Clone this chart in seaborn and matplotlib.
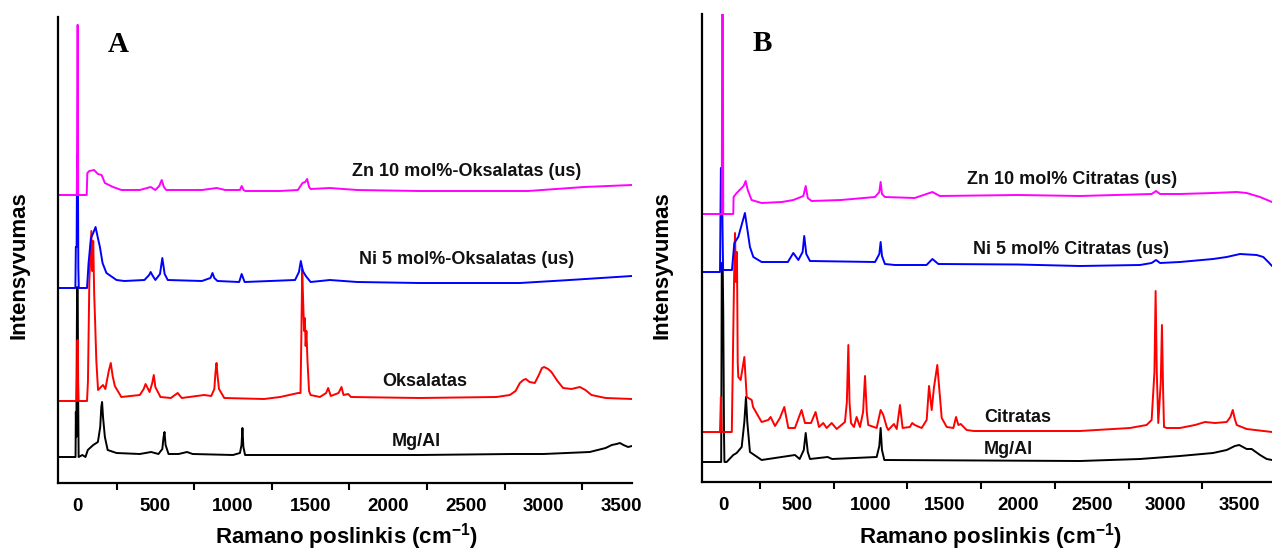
import numpy as np
import pandas as pd
import matplotlib
matplotlib.use("Agg")
import matplotlib.pyplot as plt
from matplotlib.ticker import FixedLocator
import seaborn as sns

# ---------------- data (Raman shift, cm-1 / relative intensity) ----------------
# Panel A
a_mgal_x = [-125, -14, -12, -9, -4, 0, 3, 6, 30, 50, 65, 100, 130, 145, 152, 157, 163, 175, 193, 250, 400,
            473, 520, 545, 553, 559, 566, 585, 650, 704, 740, 1000, 1045, 1055, 1061, 1067, 1078, 1500,
            2200, 2800, 3000, 3298, 3400, 3440, 3470, 3492, 3515, 3545, 3570]
a_mgal_y = [0, 0, 45, 20, 170, 169, 60, 0, 2, 0, 7, 12, 15, 30, 50, 55, 40, 20, 7, 4, 3,
            5, 3, 8, 20, 25, 12, 3, 3, 5, 3, 2, 4, 12, 29, 10, 2, 2,
            2, 3, 3, 5, 9, 12, 13, 14, 12, 10, 11]

a_oks_x = [-125, -8, -4, -2, 0, 2, 5, 60, 66, 75, 88, 93, 100, 106, 112, 120, 131, 163, 178, 200, 213, 225,
           239, 281, 400, 425, 437, 463, 480, 490, 500, 533, 600, 644, 670, 815, 860, 880, 887, 894, 901,
           910, 944, 1200, 1304, 1420, 1435, 1440, 1446, 1452, 1458, 1463, 1468, 1473, 1480, 1490, 1500,
           1560, 1600, 1613, 1630, 1680, 1699, 1712, 1742, 1760, 2200, 2697, 2783, 2820, 2848, 2870, 2886,
           2910, 2944, 2970, 2990, 3004, 3030, 3051, 3090, 3126, 3180, 3234, 3270, 3309, 3400, 3570]
a_oks_y = [0, 0, 30, 60, 61, 20, 0, 0, 20, 120, 170, 130, 160, 108, 80, 40, 11, 16, 12, 30, 38, 25,
           15, 4, 6, 12, 17, 9, 18, 26, 14, 4, 3, 8, 3, 6, 5, 12, 28, 38, 25,
           12, 3, 2, 4, 8, 8, 60, 132, 100, 70, 83, 55, 70, 40, 10, 6,
           4, 8, 13, 5, 8, 14, 6, 7, 4, 3, 4, 6, 10, 18, 21, 22,
           19, 18, 26, 33, 34, 32, 29, 20, 13, 12, 14, 11, 6, 3, 2]

a_ni_x = [-125, -15, -12, -7, -4, 1, 4, 7, 60, 70, 85, 100, 115, 130, 143, 160, 185, 250, 300, 430, 460, 470,
          480, 500, 530, 545, 560, 580, 800, 855, 868, 880, 900, 1040, 1056, 1075, 1400, 1425, 1437, 1450,
          1469, 1500, 1624, 1800, 2200, 2848, 3170, 3570]
a_ni_y = [0, 0, 41, 41, 133, 133, 20, 0, 0, 25, 50, 55, 61, 50, 41, 25, 15, 8, 7, 8, 13, 16,
          13, 8, 14, 30, 14, 8, 7, 10, 15, 10, 7, 6, 14, 6, 8, 16, 27, 17,
          12, 6, 8, 6, 5, 5, 8, 12]

a_zn_x = [-125, -5, -2, 1, 3, 58, 62, 75, 105, 130, 154, 175, 227, 282, 400, 470, 500, 525, 541, 555, 570, 800,
          895, 950, 1045, 1056, 1068, 1080, 1300, 1418, 1448, 1465, 1478, 1490, 1500, 1624, 1800, 2200, 2900,
          3262, 3570]
a_zn_y = [0, 0, 170, 170, 0, 0, 22, 24, 25, 21, 20, 12, 8, 5, 5, 8, 5, 9, 15, 8, 5, 5,
          7, 5, 5, 9, 5, 4, 4, 5, 12, 13, 16, 8, 6, 7, 5, 4, 4,
          8, 10]

# Panel B
b_mgal_x = [-140, -12, -8, -2, 2, 7, 10, 25, 70, 93, 127, 145, 156, 165, 183, 262, 488, 520, 548, 561, 575, 590,
            710, 740, 1042, 1060, 1069, 1078, 1094, 2420, 2827, 3098, 3322, 3415, 3470, 3500, 3550, 3584,
            3641, 3686, 3722]
b_mgal_y = [0, 0, 199, 199, 150, 30, 0, 0, 7, 9, 15, 40, 65, 40, 10, 2, 7, 3, 12, 29, 10, 3,
            5, 3, 5, 16, 34, 12, 2, 1, 3, 6, 9, 12, 16, 17, 13, 13,
            7, 3, 2]

b_cit_x = [-140, -20, -14, -8, 60, 66, 75, 82, 88, 95, 100, 104, 120, 145, 161, 195, 204, 262, 307, 323, 353,
           386, 416, 443, 488, 533, 556, 597, 628, 651, 680, 703, 737, 771, 827, 840, 850, 858, 868, 888, 906,
           929, 950, 963, 975, 985, 1042, 1069, 1087, 1110, 1121, 1159, 1178, 1200, 1218, 1267, 1283, 1300,
           1347, 1381, 1397, 1415, 1430, 1453, 1466, 1483, 1517, 1562, 1580, 1596, 1612, 1652, 1700, 2420,
           2759, 2872, 2906, 2925, 2933, 2941, 2951, 2968, 2976, 2984, 2990, 3008, 3098, 3200, 3268, 3336,
           3415, 3440, 3456, 3470, 3483, 3550, 3722]
b_cit_y = [0, 0, 35, 0, 0, 60, 150, 199, 150, 180, 70, 55, 52, 75, 35, 32, 25, 10, 12, 15, 6,
           14, 25, 4, 4, 22, 9, 9, 20, 5, 9, 4, 9, 3, 10, 30, 87, 30, 9, 5, 15,
           5, 20, 56, 20, 7, 4, 22, 17, 5, 2, 8, 3, 27, 4, 5, 9, 7,
           4, 12, 46, 22, 44, 67, 44, 14, 5, 4, 15, 7, 8, 2, 1, 1,
           4, 7, 12, 60, 141, 60, 9, 50, 107, 40, 5, 4, 4, 7, 10, 9,
           10, 15, 22, 13, 7, 3, 0]

b_ni_x = [-140, -20, -14, -6, -3, 1, 61, 77, 104, 149, 183, 206, 262, 440, 477, 511, 540, 551, 565, 590, 1031,
          1060, 1069, 1078, 1098, 1166, 1380, 1420, 1460, 2000, 2420, 2827, 2906, 2936, 2963, 3098, 3322,
          3415, 3505, 3618, 3663, 3697, 3722]
b_ni_y = [0, 0, 104, 104, 45, 2, 2, 29, 35, 59, 25, 15, 10, 10, 19, 12, 20, 36, 18, 11, 10,
          18, 30, 16, 8, 7, 7, 13, 8, 7.5, 6, 7, 9, 12, 9, 10, 13,
          15, 18, 17, 15, 10, 6]

b_zn_x = [-140, -8, -5, -1, 2, 70, 72, 93, 140, 154, 168, 194, 262, 400, 477, 545, 561, 575, 601, 800, 1031,
          1060, 1069, 1078, 1098, 1300, 1420, 1470, 2000, 2420, 2906, 2936, 2963, 3098, 3322, 3483, 3550,
          3641, 3722]
b_zn_y = [0, 0, 230, 230, 0, 0, 17, 21, 28, 33, 24, 14, 11, 12, 14, 18, 28, 16, 13, 14, 17,
          22, 32, 20, 17, 16, 22, 18, 19, 18, 20, 23, 20, 20, 21, 22, 21,
          17, 12]

labels_a = ["Mg/Al", "Oksalatas", "Ni 5 mol%-Oksalatas (us)", "Zn 10 mol%-Oksalatas (us)"]
labels_b = ["Mg/Al", "Citratas", "Ni 5 mol% Citratas (us)", "Zn 10 mol% Citratas (us)"]
tick_values = [0, 500, 1000, 1500, 2000, 2500, 3000, 3500]

# ---------------- style ----------------
sns.set_theme(style="white")
plt.rcParams["font.family"] = ["Liberation Sans", "DejaVu Sans"]
plt.rcParams["mathtext.fontset"] = "custom"
plt.rcParams["mathtext.rm"] = "Liberation Sans:bold"
plt.rcParams["mathtext.it"] = "Liberation Sans:bold"
plt.rcParams["mathtext.bf"] = "Liberation Sans:bold"
plt.rcParams["mathtext.default"] = "rm"

colors = ["black", "#ff0000", "#0000ff", "#ff00ff"]

fig = plt.figure(figsize=(12.72, 5.53), dpi=100)
W, H = 1272.0, 553.0

def make_axes(left, right, bottom, top):
    return fig.add_axes([left / W, 1 - bottom / H, (right - left) / W, (bottom - top) / H])

axA = make_axes(58.3, 632.0, 483.0, 17.0)
axB = make_axes(702.3, 1272.0, 481.7, 14.0)

series_a = [(a_mgal_x, a_mgal_y), (a_oks_x, a_oks_y), (a_ni_x, a_ni_y), (a_zn_x, a_zn_y)]
series_b = [(b_mgal_x, b_mgal_y), (b_cit_x, b_cit_y), (b_ni_x, b_ni_y), (b_zn_x, b_zn_y)]
offsets_a = [26, 82, 195, 288]
offsets_b = [19.7, 49.7, 209.7, 267.7]

def draw(ax, series, offsets, labels, label_pos, xlim, ylim, letter, letter_pos):
    for (xs, ys), off, col in zip(series, offsets, colors):
        sns.lineplot(x=np.array(xs, float), y=np.array(ys, float) + off, ax=ax, color=col,
                     lw=1.4, estimator=None, sort=False)
    ax.set_xlim(*xlim)
    ax.set_ylim(*ylim)
    ax.set_yticks([])
    ax.set_xlabel("")
    ax.set_ylabel("")
    for s in ["top", "right"]:
        ax.spines[s].set_visible(False)
    for s in ["left", "bottom"]:
        ax.spines[s].set_color("black")
        ax.spines[s].set_linewidth(1.6)
    ax.set_xticks(tick_values)
    ax.set_xticklabels([str(v) for v in tick_values], fontsize=13.5, fontweight="bold")
    ax.xaxis.set_minor_locator(FixedLocator([v + 250 for v in tick_values]))
    ax.tick_params(axis="x", which="major", length=0, pad=11, colors="black")
    ax.tick_params(axis="x", which="minor", length=5, width=1.5, direction="out", colors="black",
                   bottom=True)
    for lab, (tx, ty) in zip(labels, label_pos):
        ax.text(tx, ty, lab, ha="center", va="center", fontsize=13, fontweight="bold", color="#111111")
    ax.text(letter_pos[0], letter_pos[1], letter, ha="center", va="center", fontsize=21,
            fontweight="bold", family=["Liberation Serif", "DejaVu Serif"], color="black")

draw(axA, series_a, offsets_a, labels_a,
     [(2178, 42), (2236, 101), (2506, 224), (2506, 311)],
     (-125, 3570), (0, 466), "A", (259, 438))
draw(axB, series_b, offsets_b, labels_b,
     [(1932, 32.7), (2000, 63.7), (2359, 231.7), (2366, 302.7)],
     (-140, 3722), (0, 467.7), "B", (264, 437.7))

for xc in (19 / W, 662 / W):
    fig.text(xc, 1 - 265 / H, "Intensyvumas", rotation=90, ha="center", va="center",
             fontsize=16, fontweight="bold", color="black")
xl = r"Ramano poslinkis (cm$^{-1}$)"
fig.text(346 / W, 1 - 537 / H, xl, ha="center", va="center", fontsize=16, fontweight="bold", color="black")
fig.text(990 / W, 1 - 537 / H, xl, ha="center", va="center", fontsize=16, fontweight="bold", color="black")

fig.savefig("out.png", dpi=100, facecolor="white")
